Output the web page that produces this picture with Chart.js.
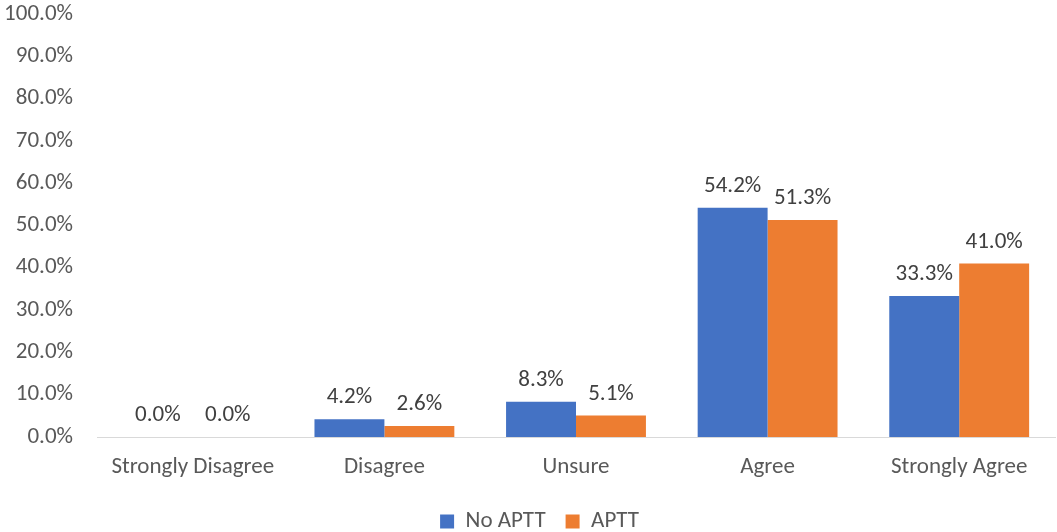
<!DOCTYPE html>
<html>
<head>
<meta charset="utf-8">
<script src="https://cdn.jsdelivr.net/npm/chart.js@4/dist/chart.umd.min.js"></script>
<style>
  html, body { margin: 0; padding: 0; background: #fff; }
  #wrap { width: 1057px; height: 532px; position: relative; }
</style>
</head>
<body>
<div id="wrap"><canvas id="chart"></canvas></div>
<script>
const categories = ['Strongly Disagree', 'Disagree', 'Unsure', 'Agree', 'Strongly Agree'];
const noAptt = [0.0, 4.2, 8.3, 54.2, 33.3];
const aptt = [0.0, 2.6, 5.1, 51.3, 41.0];
const seriesNames = ['No APTT', 'APTT'];
const seriesColors = ['#4472C4', '#ED7D31'];

const fontFamily = "Carlito, Calibri, Lato, 'Open Sans', sans-serif";
const fontSize = 23;

// simple value labels above each bar
const barLabels = {
  id: 'barLabels',
  afterLayout(chart) {
    // legend sits a little right of centre in the original
    chart.legend.left += 12;
    chart.legend.right += 12;
  },
  afterDatasetsDraw(chart) {
    const ctx = chart.ctx;
    ctx.save();
    ctx.font = fontSize + 'px ' + fontFamily;
    ctx.fillStyle = '#404040';
    ctx.textAlign = 'center';
    ctx.textBaseline = 'bottom';
    chart.data.datasets.forEach((ds, i) => {
      chart.getDatasetMeta(i).data.forEach((bar, j) => {
        ctx.fillText(ds.data[j].toFixed(1) + '%', bar.x, bar.y - 10);
      });
    });
    ctx.restore();
  }
};

new Chart(document.getElementById('chart').getContext('2d'), {
  type: 'bar',
  data: {
    labels: categories,
    datasets: [
      { label: seriesNames[0], data: noAptt, backgroundColor: seriesColors[0] },
      { label: seriesNames[1], data: aptt, backgroundColor: seriesColors[1] }
    ]
  },
  options: {
    responsive: true,
    maintainAspectRatio: false,
    animation: false,
    categoryPercentage: 0.73,
    barPercentage: 1.0,
    layout: { padding: { top: 0, right: 2, left: 0, bottom: -11 } },
    plugins: {
      tooltip: { enabled: false },
      legend: {
        position: 'bottom',
        labels: {
          boxWidth: 14, boxHeight: 14, padding: 20,
          color: '#595959',
          font: { size: fontSize, family: fontFamily }
        }
      }
    },
    scales: {
      x: {
        grid: { display: false },
        border: { display: true, color: '#D9D9D9', width: 1 },
        ticks: { color: '#595959', font: { size: fontSize, family: fontFamily }, padding: 8 },
        afterFit: s => { s.height = 53; }
      },
      y: {
        min: 0, max: 100,
        grid: { display: false, tickLength: 24 },
        border: { display: false },
        ticks: {
          stepSize: 10, padding: 0,
          color: '#595959', font: { size: fontSize, family: fontFamily },
          callback: v => v.toFixed(1) + '%'
        },
        afterFit: s => { s.width = 97; }
      }
    }
  },
  plugins: [barLabels]
});
</script>
</body>
</html>
